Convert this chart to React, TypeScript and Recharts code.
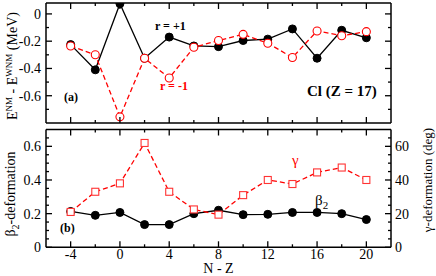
import React from 'react';
import { LineChart, Line, XAxis, YAxis } from 'recharts';

// ---- data ----
const nMinusZ = [-4, -2, 0, 2, 4, 6, 8, 10, 12, 14, 16, 18, 20];
const energyRPlus = [-0.225, -0.41, 0.075, -0.325, -0.17, -0.235, -0.24, -0.195, -0.185, -0.11, -0.325, -0.12, -0.175];
const energyRMinus = [-0.235, -0.3, -0.755, -0.325, -0.47, -0.245, -0.195, -0.15, -0.215, -0.32, -0.125, -0.16, -0.13];
const beta2 = [0.213, 0.19, 0.207, 0.135, 0.135, 0.2, 0.22, 0.194, 0.196, 0.207, 0.207, 0.2, 0.165];
const gammaDeg = [21, 33, 38, 62, 33, 22.5, 19.4, 31, 40, 37.6, 44.5, 47.4, 40];

const xTicks = [-4, -2, 0, 2, 4, 6, 8, 10, 12, 14, 16, 18, 20];
const energyTicks = [-0.7, -0.6, -0.5, -0.4, -0.3, -0.2, -0.1, 0];
const betaTicks = [0, 0.05, 0.1, 0.15, 0.2, 0.25, 0.3, 0.35, 0.4, 0.45, 0.5, 0.55, 0.6, 0.65];
const gammaTicks = [0, 5, 10, 15, 20, 25, 30, 35, 40, 45, 50, 55, 60, 65];

const topRows = nMinusZ.map((x, i) => ({ x, rp: energyRPlus[i], rm: energyRMinus[i] }));
const botRows = nMinusZ.map((x, i) => ({ x, b: beta2[i], g: gammaDeg[i] }));

const FONT = '"Liberation Serif", "Times New Roman", serif';
const RED = '#ff0000';
const SQ = '#ff3333';

const fmt = (v: number) => {
  if (Math.abs(v) < 1e-9) return '0';
  return v.toFixed(1);
};

type TickOpts = {
  side: 'bottom' | 'top' | 'left' | 'right';
  isMajor: (v: number) => boolean;
  label?: (v: number) => string | null;
};

const makeTick = (o: TickOpts) => (props: any) => {
  const { x, y, payload } = props;
  const v = payload.value as number;
  const major = o.isMajor(v);
  const len = major ? 6 : 3;
  let line;
  if (o.side === 'bottom') line = <line x1={x} y1={y} x2={x} y2={y - len} stroke="black" strokeWidth={1.3} />;
  else if (o.side === 'top') line = <line x1={x} y1={y} x2={x} y2={y + len} stroke="black" strokeWidth={1.3} />;
  else if (o.side === 'left') line = <line x1={x} y1={y} x2={x + len} y2={y} stroke="black" strokeWidth={1.3} />;
  else line = <line x1={x} y1={y} x2={x - len} y2={y} stroke="black" strokeWidth={1.3} />;
  const lab = o.label && major ? o.label(v) : null;
  let text = null;
  if (lab !== null && lab !== undefined) {
    if (o.side === 'bottom')
      text = <text x={x} y={y + 11.5} textAnchor="middle" fontSize={14} fontFamily={FONT} fill="black">{lab}</text>;
    else if (o.side === 'left')
      text = <text x={x - 5} y={y + 5} textAnchor="end" fontSize={14} fontFamily={FONT} fill="black">{lab}</text>;
    else if (o.side === 'right')
      text = <text x={x + 4} y={y + 5} textAnchor="start" fontSize={14} fontFamily={FONT} fill="black">{lab}</text>;
  }
  return (
    <g>
      {line}
      {text}
    </g>
  );
};

const xMajor = (v: number) => Math.round(v) % 4 === 0;
const eMajor = (v: number) => Math.round(v * 10) % 2 === 0;
const bMajor = (v: number) => Math.round(v * 100) % 20 === 0;
const gMajor = (v: number) => Math.round(v) % 20 === 0;

const axisLine = { stroke: 'black', strokeWidth: 1.5 };

const SquareDot = (props: any) => {
  const { cx, cy } = props;
  if (cx == null || cy == null) return <g />;
  return <rect x={cx - 3.5} y={cy - 3.5} width={7} height={7} fill="white" stroke={SQ} strokeWidth={1.1} />;
};

export default function App() {
  return (
    <div style={{ position: 'absolute', left: 0, top: 0, width: 436, height: 276, background: 'white', overflow: 'hidden' }}>
      <div style={{ position: 'absolute', left: 0, top: 0 }}>
        <LineChart width={436} height={128} data={topRows} margin={{ top: 2, right: 44, bottom: 4, left: 45 }}>
          <XAxis xAxisId="b" dataKey="x" type="number" domain={[-6, 22]} ticks={xTicks} interval={0} height={1}
            tickSize={0} tickMargin={0} axisLine={axisLine} tickLine={false}
            tick={makeTick({ side: 'bottom', isMajor: xMajor })} />
          <XAxis xAxisId="t" orientation="top" dataKey="x" type="number" domain={[-6, 22]} ticks={xTicks} interval={0} height={1}
            tickSize={0} tickMargin={0} axisLine={axisLine} tickLine={false}
            tick={makeTick({ side: 'top', isMajor: xMajor })} />
          <YAxis yAxisId="l" type="number" domain={[-0.8, 0.08]} ticks={energyTicks} interval={0} width={1}
            tickSize={0} tickMargin={0} axisLine={axisLine} tickLine={false} allowDataOverflow
            tick={makeTick({ side: 'left', isMajor: eMajor, label: fmt })} />
          <YAxis yAxisId="r" orientation="right" type="number" domain={[-0.8, 0.08]} ticks={energyTicks} interval={0} width={1}
            tickSize={0} tickMargin={0} axisLine={axisLine} tickLine={false} allowDataOverflow
            tick={makeTick({ side: 'right', isMajor: eMajor })} />
          <Line xAxisId="b" yAxisId="l" dataKey="rp" stroke="black" strokeWidth={1.3} isAnimationActive={false}
            dot={{ r: 4, fill: 'black', stroke: 'black', strokeWidth: 1 }} />
          <Line xAxisId="b" yAxisId="l" dataKey="rm" stroke={RED} strokeWidth={1.3} strokeDasharray="5 3" isAnimationActive={false}
            dot={{ r: 4, fill: 'white', stroke: RED, strokeWidth: 1.1, strokeDasharray: '' }} />
        </LineChart>
      </div>
      <div style={{ position: 'absolute', left: 0, top: 128 }}>
        <LineChart width={436} height={148} data={botRows} margin={{ top: 0.5, right: 44, bottom: 27.7, left: 45 }}>
          <XAxis xAxisId="b" dataKey="x" type="number" domain={[-6, 22]} ticks={xTicks} interval={0} height={1}
            tickSize={0} tickMargin={0} axisLine={axisLine} tickLine={false}
            tick={makeTick({ side: 'bottom', isMajor: xMajor, label: (v) => String(v) })} />
          <XAxis xAxisId="t" orientation="top" dataKey="x" type="number" domain={[-6, 22]} ticks={xTicks} interval={0} height={1}
            tickSize={0} tickMargin={0} axisLine={axisLine} tickLine={false}
            tick={makeTick({ side: 'top', isMajor: xMajor })} />
          <YAxis yAxisId="l" type="number" domain={[0, 0.7]} ticks={betaTicks} interval={0} width={1}
            tickSize={0} tickMargin={0} axisLine={axisLine} tickLine={false} allowDataOverflow
            tick={makeTick({ side: 'left', isMajor: bMajor, label: fmt })} />
          <YAxis yAxisId="g" orientation="right" type="number" domain={[0, 70]} ticks={gammaTicks} interval={0} width={1}
            tickSize={0} tickMargin={0} axisLine={axisLine} tickLine={false} allowDataOverflow
            tick={makeTick({ side: 'right', isMajor: gMajor, label: (v) => String(v) })} />
          <Line xAxisId="b" yAxisId="l" dataKey="b" stroke="black" strokeWidth={1.3} isAnimationActive={false}
            dot={{ r: 4, fill: 'black', stroke: 'black', strokeWidth: 1 }} />
          <Line xAxisId="b" yAxisId="g" dataKey="g" stroke={RED} strokeWidth={1.3} strokeDasharray="5 3" isAnimationActive={false}
            dot={<SquareDot />} />
        </LineChart>
      </div>
      <svg width={436} height={276} style={{ position: 'absolute', left: 0, top: 0, pointerEvents: 'none' }} fontFamily={FONT}>
        <text transform="translate(17,66) rotate(-90)" textAnchor="middle" fontSize={14} fill="black">
          E<tspan dy={-5} fontSize={9}>NM</tspan><tspan dy={5}> - E</tspan><tspan dy={-5} fontSize={9}>WNM</tspan><tspan dy={5}> (MeV)</tspan>
        </text>
        <text transform="translate(15,194) rotate(-90)" textAnchor="middle" fontSize={14} fill="black">
          β<tspan dy={4} fontSize={10}>2</tspan><tspan dy={-4}>-deformation</tspan>
        </text>
        <text transform="translate(432,180) rotate(-90)" textAnchor="middle" fontSize={13} fill="black">
          γ-deformation (deg)
        </text>
        <text x={218.5} y={272.5} textAnchor="middle" fontSize={14} fill="black">N - Z</text>
        <text x={155} y={30} fontSize={12} fontWeight="bold" fill="black">r = +1</text>
        <text x={160} y={90} fontSize={12} fontWeight="bold" fill={RED}>r = -1</text>
        <text x={64} y={101} fontSize={12} fontWeight="bold" fill="black">(a)</text>
        <text x={307} y={96} fontSize={15} fontWeight="bold" fill="black">Cl (Z = 17)</text>
        <text x={60} y={232} fontSize={12} fontWeight="bold" fill="black">(b)</text>
        <text x={292} y={165} fontSize={15} fill={RED}>γ</text>
        <text x={315} y={205} fontSize={15} fill="black">β<tspan dy={4} fontSize={11}>2</tspan></text>
      </svg>
    </div>
  );
}
